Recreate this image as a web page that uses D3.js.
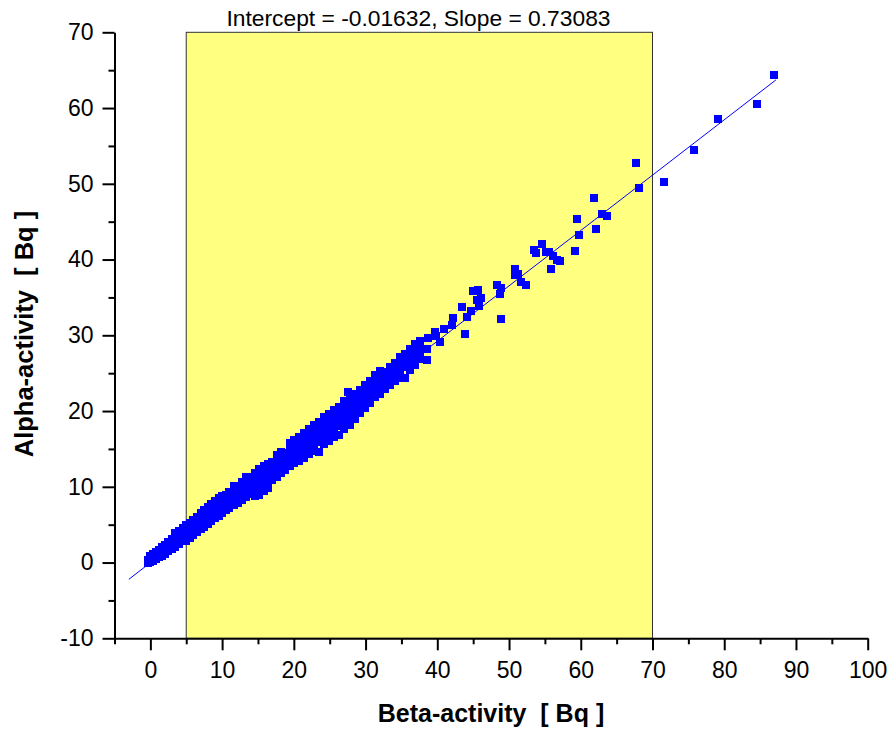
<!DOCTYPE html>
<html>
<head>
<meta charset="utf-8">
<script src="https://cdn.jsdelivr.net/npm/d3@7"></script>
<style>
  html, body { margin: 0; padding: 0; background: #fff; }
  svg { display: block; }
  text { font-family: "Liberation Sans", Arial, sans-serif; }
</style>
</head>
<body>
<svg id="chart" width="891" height="729"></svg>
<script>
// ---------- data ----------
const titleText = "Intercept = -0.01632, Slope = 0.73083";
const xTitle = "Beta-activity  [ Bq ]";
const yTitle = "Alpha-activity  [ Bq ]";
const xDomain = [-5, 100];
const yDomain = [-10, 70];
const xMajorTicks = [0, 10, 20, 30, 40, 50, 60, 70, 80, 90, 100];
const xMinorTicks = [-5, 5, 15, 25, 35, 45, 55, 65, 75, 85, 95];
const yMajorTicks = [-10, 0, 10, 20, 30, 40, 50, 60, 70];
const yMinorTicks = [-5, 5, 15, 25, 35, 45, 55, 65];
const highlightRange = [5, 70];          // beta range of shaded window
const fitIntercept = -0.01632;
const fitSlope = 0.73083;
const fitRange = [-3, 87.2];

// measured points [beta, alpha]
const bandLow = [
  [-0.3,0.0],[-0.3,0.3],
  [0.0,0.05],[0.0,0.5],[0.0,0.9],
  [0.4,0.2],[0.4,0.7],[0.4,1.1],
  [0.8,0.5],[0.8,0.9],[0.8,1.4],
  [1.2,0.7],[1.2,1.2],[1.2,1.7],
  [1.6,0.9],[1.6,1.5],[1.6,2.0],
  [2.0,1.1],[2.0,1.7],[2.0,2.3],
  [2.5,1.5],[2.5,2.0],[2.5,2.7],
  [3.0,1.8],[3.0,2.4],[3.0,3.1],
  [3.5,2.1],[3.5,2.7],[3.5,3.4],[3.5,3.9],
  [4.0,2.4],[4.0,3.0],[4.0,3.6],[4.0,4.2],
  [4.5,2.8],[4.5,3.4],[4.5,4.0],[4.5,4.5],
  [5.0,2.9],[5.0,3.5],[5.0,4.1],[5.0,4.9],
  [5.5,3.3],[5.5,3.9],[5.5,4.6],[5.5,5.2],
  [6.0,3.7],[6.0,4.3],[6.0,4.9],[6.0,5.6],
  [6.5,4.0],[6.5,4.7],[6.5,5.3],[6.5,6.0],
  [7.0,4.4],[7.0,5.1],[7.0,5.8],[7.0,6.5],
  [7.5,4.7],[7.5,5.4],[7.5,6.1],[7.5,6.9],
  [8.0,5.1],[8.0,5.8],[8.0,6.5],[8.0,7.3],
  [8.5,5.5],[8.5,6.1],[8.5,6.9],[8.5,7.7],
  [9.0,5.9],[9.0,6.6],[9.0,7.3],[9.0,8.1],
  [9.5,6.2],[9.5,6.9],[9.5,7.6],[9.5,8.5],
  [10.0,6.5],[10.0,7.2],[10.0,8.0],[10.0,8.8]
];
const bandMid = [
  [10.5,6.9],[10.5,7.5],[10.5,8.2],[10.5,8.9],
  [11.0,7.2],[11.0,7.9],[11.0,8.6],[11.0,9.3],
  [11.6,7.6],[11.6,8.3],[11.6,9.0],[11.6,9.7],[11.6,10.1],
  [12.2,7.9],[12.2,8.6],[12.2,9.4],[12.2,10.1],
  [12.8,8.3],[12.8,9.0],[12.8,9.8],[12.8,10.6],
  [13.4,8.6],[13.4,9.4],[13.4,10.2],[13.4,10.9],[13.4,11.3],
  [14.0,9.0],[14.0,9.8],[14.0,10.5],[14.0,11.3],
  [14.6,8.8],[14.6,9.5],[14.6,10.3],[14.6,11.1],[14.6,11.8],
  [15.2,8.9],[15.2,9.9],[15.2,10.8],[15.2,11.5],[15.2,12.3],
  [15.8,9.4],[15.8,10.3],[15.8,11.2],[15.8,12.0],[15.8,12.7],
  [16.4,9.8],[16.4,10.8],[16.4,11.6],[16.4,12.4],[16.4,13.0],
  [17.0,10.9],[17.0,11.7],[17.0,12.5],[17.0,13.3],
  [17.6,11.3],[17.6,12.1],[17.6,12.9],[17.6,13.7],[17.6,14.2],
  [18.2,11.8],[18.2,12.5],[18.2,13.3],[18.2,14.1],[18.2,14.6],
  [18.8,12.2],[18.8,12.9],[18.8,13.7],[18.8,14.5],
  [19.4,12.7],[19.4,13.4],[19.4,14.2],[19.4,14.9],[19.4,15.8],
  [20.0,13.2],[20.0,13.9],[20.0,14.6],[20.0,15.4],[20.0,16.2]
];
const bandHigh = [
  [20.7,13.4],[20.7,14.3],[20.7,15.1],[20.7,15.8],[20.7,16.6],
  [21.4,13.8],[21.4,14.8],[21.4,15.6],[21.4,16.3],[21.4,17.1],
  [22.1,14.3],[22.1,15.2],[22.1,16.1],[22.1,16.9],[22.1,17.6],
  [22.8,14.7],[22.8,15.6],[22.8,16.5],[22.8,17.3],[22.8,18.1],
  [23.5,14.6],[23.5,15.9],[23.5,16.9],[23.5,17.8],[23.5,18.5],
  [24.2,15.6],[24.2,16.6],[24.2,17.5],[24.2,18.3],[24.2,19.2],
  [24.9,16.1],[24.9,17.1],[24.9,18.0],[24.9,18.8],[24.9,19.6],
  [25.6,16.6],[25.6,17.5],[25.6,18.5],[25.6,19.3],[25.6,20.1],
  [26.3,16.8],[26.3,18.0],[26.3,19.0],[26.3,19.8],[26.3,20.6],
  [27.0,17.6],[27.0,18.5],[27.0,19.5],[27.0,20.3],[27.0,21.3],
  [27.6,22.5],
  [27.8,18.1],[27.8,19.1],[27.8,20.1],[27.8,20.9],[27.8,21.7],
  [28.5,19.0],[28.5,19.8],[28.5,20.6],[28.5,21.5],[28.5,22.2],
  [29.2,19.8],[29.2,20.5],[29.2,21.2],[29.2,22.0],[29.2,22.8],
  [29.9,20.4],[29.9,21.1],[29.9,21.8],[29.9,22.6],[29.9,23.4],
  [30.6,21.1],[30.6,21.8],[30.6,22.4],[30.6,23.1],[30.6,24.0],
  [31.3,21.8],[31.3,22.4],[31.3,23.0],[31.3,23.8],[31.3,24.7],
  [32.0,22.3],[32.0,23.0],[32.0,23.6],[32.0,24.4],[32.0,25.3],
  [32.7,22.9],[32.7,23.6],[32.7,24.3],[32.7,25.1],
  [33.4,23.4],[33.4,24.2],[33.4,24.9],[33.4,25.8],
  [34.1,24.0],[34.1,24.8],[34.1,25.5],[34.1,26.3],
  [34.8,24.3],[34.8,25.3],[34.8,26.1],[34.8,27.1],
  [35.5,24.4],[35.5,25.8],[35.5,26.7],[35.5,27.5],
  [36.2,25.4],[36.2,26.4],[36.2,27.3],[36.2,28.2],
  [36.9,26.1],[36.9,27.0],[36.9,27.9],[36.9,28.9],
  [37.6,26.9],[37.6,27.6],[37.6,28.5],[37.6,29.2]
];
const scatterPts = [
  [38.5,28.2],[38.6,26.7],[38.7,29.7],[39.7,30.5],[39.8,29.9],[40.4,29.1],
  [41.0,30.8],[42.0,31.3],[43.8,30.2],[42.2,32.3],[44.2,32.4],[43.5,33.7],
  [44.7,33.2],[45.0,35.8],[45.7,36.0],[46.1,34.9],[45.5,34.6],[45.8,33.9],
  [48.3,36.7],[48.9,36.3],[48.7,35.4],[48.9,32.2],[50.9,38.8],[50.9,38.0],
  [51.3,38.1],[51.7,37.1],[52.4,36.6],[53.5,41.3],[53.7,40.8],[54.6,42.1],
  [55.1,41.0],[55.6,41.0],[56.1,40.5],[56.7,39.9],[55.8,38.7],[57.1,39.8],
  [59.2,41.1],[59.8,43.3],[59.5,45.3],[62.1,44.0],[63.0,46.0],[63.6,45.7],
  [61.9,48.1],[67.7,52.7],[68.1,49.4],[71.6,50.2],[75.8,54.4],[79.2,58.5],
  [84.5,60.5],[87.0,64.4]
];
const allPoints = bandLow.concat(bandMid, bandHigh, scatterPts);

// ---------- chart ----------
const svg = d3.select("#chart");
const x = d3.scaleLinear().domain(xDomain).range([114.5, 867.7]);
const y = d3.scaleLinear().domain(yDomain).range([638.3, 32.3]);
const fmt = d => String(d);

// highlight window
svg.append("rect")
  .attr("x", x(highlightRange[0]))
  .attr("y", y(yDomain[1]))
  .attr("width", x(highlightRange[1]) - x(highlightRange[0]))
  .attr("height", y(yDomain[0]) - y(yDomain[1]))
  .attr("fill", "#ffff80")
  .attr("stroke", "#333")
  .attr("stroke-width", 1);

// fit line
svg.append("line")
  .attr("x1", x(fitRange[0])).attr("y1", y(fitIntercept + fitSlope * fitRange[0]))
  .attr("x2", x(fitRange[1])).attr("y2", y(fitIntercept + fitSlope * fitRange[1]))
  .attr("stroke", "#0000ff").attr("stroke-width", 1);

// points
const sz = 8;
svg.append("g").attr("shape-rendering", "crispEdges")
  .selectAll("rect").data(allPoints).join("rect")
  .attr("x", d => x(d[0]) - sz / 2)
  .attr("y", d => y(d[1]) - sz / 2)
  .attr("width", sz).attr("height", sz)
  .attr("fill", "#0000ff");

// axes
const xAxisY = y(yDomain[0]);
const yAxisX = x(xDomain[0]);

svg.append("g").attr("transform", `translate(0,${xAxisY})`)
  .call(d3.axisBottom(x).tickValues(xMajorTicks).tickFormat(fmt).tickSize(12).tickSizeOuter(0).tickPadding(11));
svg.append("g").attr("transform", `translate(0,${xAxisY})`)
  .call(d3.axisBottom(x).tickValues(xMinorTicks).tickFormat("").tickSize(6).tickSizeOuter(0))
  .select(".domain").remove();

svg.append("g").attr("transform", `translate(${yAxisX},0)`)
  .call(d3.axisLeft(y).tickValues(yMajorTicks).tickFormat(fmt).tickSize(12).tickSizeOuter(0).tickPadding(9));
svg.append("g").attr("transform", `translate(${yAxisX},0)`)
  .call(d3.axisLeft(y).tickValues(yMinorTicks).tickFormat("").tickSize(6).tickSizeOuter(0))
  .select(".domain").remove();

svg.selectAll(".domain, .tick line").attr("stroke", "#000").attr("stroke-width", 2);
svg.selectAll(".tick text")
  .attr("fill", "#000")
  .style("font-size", "23px")
  .style("font-family", "'Liberation Sans', Arial, sans-serif");

// title
svg.append("text")
  .attr("x", 418.5).attr("y", 26)
  .attr("text-anchor", "middle")
  .style("font-size", "22.8px")
  .text(titleText);

// axis titles
svg.append("text")
  .attr("x", 491).attr("y", 722)
  .attr("text-anchor", "middle")
  .style("font-size", "25px").style("font-weight", "bold").style("white-space", "pre")
  .text(xTitle);

svg.append("text")
  .attr("transform", "translate(33,334) rotate(-90)")
  .attr("text-anchor", "middle")
  .style("font-size", "25.5px").style("font-weight", "bold").style("white-space", "pre")
  .text(yTitle);
</script>
</body>
</html>
